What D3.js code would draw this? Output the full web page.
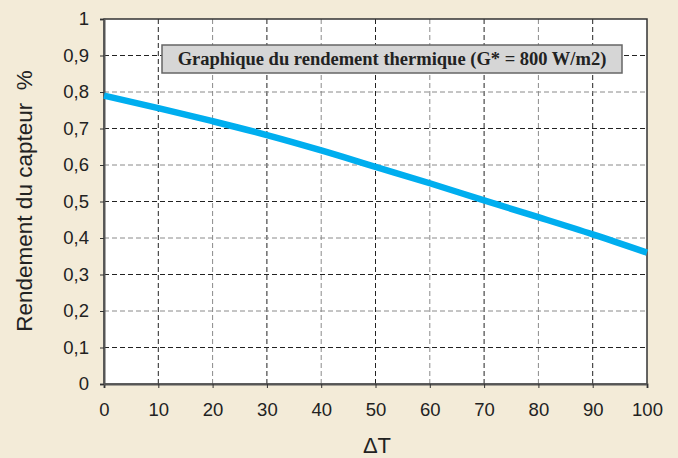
<!DOCTYPE html>
<html>
<head>
<meta charset="utf-8">
<script src="https://cdn.jsdelivr.net/npm/d3@7"></script>
<style>
  body { margin: 0; background: #f3ebd8; }
  svg { display: block; }
  text { font-family: "Liberation Sans", Arial, sans-serif; fill: #222; }
</style>
</head>
<body>
<script>
// data
var deltaT = [0, 10, 20, 30, 40, 50, 60, 70, 80, 90, 100];
var rendement = [0.79, 0.756, 0.72, 0.682, 0.64, 0.595, 0.55, 0.503, 0.457, 0.41, 0.36];
var xTicks = [0, 10, 20, 30, 40, 50, 60, 70, 80, 90, 100];
var yTicks = [0, 0.1, 0.2, 0.3, 0.4, 0.5, 0.6, 0.7, 0.8, 0.9, 1];

var W = 678, H = 458;
var m = { left: 104, right: 31, top: 19, bottom: 74 };
var w = W - m.left - m.right, h = H - m.top - m.bottom;

var svg = d3.select('body').append('svg').attr('width', W).attr('height', H);
svg.append('rect').attr('width', W).attr('height', H).attr('fill', '#f3ebd8');

var x = d3.scaleLinear().domain([0, 100]).range([0, w]);
var y = d3.scaleLinear().domain([0, 1]).range([h, 0]);

var g = svg.append('g').attr('transform', 'translate(' + m.left + ',' + m.top + ')');
g.append('rect').attr('width', w).attr('height', h).attr('fill', '#fff');

// grid lines, alternating dark / grey dashes
g.selectAll('line.vg').data(xTicks.slice(1, -1)).enter().append('line')
  .attr('x1', function(d) { return x(d); }).attr('x2', function(d) { return x(d); })
  .attr('y1', 0).attr('y2', h)
  .attr('stroke', function(d, i) { return i % 2 ? '#8a8a8a' : '#222'; })
  .attr('stroke-width', 1).attr('stroke-dasharray', '5,3');
g.selectAll('line.hg').data(yTicks.slice(1, -1)).enter().append('line')
  .attr('y1', function(d) { return y(d); }).attr('y2', function(d) { return y(d); })
  .attr('x1', 0).attr('x2', w)
  .attr('stroke', function(d, i) { return i % 2 ? '#8a8a8a' : '#222'; })
  .attr('stroke-width', 1).attr('stroke-dasharray', '5,3');

// frame
g.append('rect').attr('width', w).attr('height', h)
  .attr('fill', 'none').attr('stroke', '#333').attr('stroke-width', 1.5);

// axes
var fmt = function(d) { return String(d).replace('.', ','); };
var xa = g.append('g').attr('transform', 'translate(0,' + h + ')')
  .call(d3.axisBottom(x).tickValues(xTicks).tickSize(4).tickPadding(15).tickFormat(fmt));
var ya = g.append('g')
  .call(d3.axisLeft(y).tickValues(yTicks).tickSize(4).tickPadding(11).tickFormat(fmt));
[xa, ya].forEach(function(a) {
  a.select('.domain').attr('stroke', '#555').attr('stroke-width', 2);
  a.selectAll('.tick line').attr('stroke', '#333');
  a.selectAll('.tick text').attr('font-size', 18.5).attr('fill', '#222')
    .style('font-family', '"Liberation Sans", Arial, sans-serif');
});

// curve
var line = d3.line()
  .x(function(d, i) { return x(deltaT[i]); })
  .y(function(d) { return y(d); })
  .curve(d3.curveMonotoneX);
g.append('path').datum(rendement).attr('d', line)
  .attr('fill', 'none').attr('stroke', '#00aeef').attr('stroke-width', 6.5);

// title box
var tb = g.append('g').attr('transform', 'translate(' + (162 - m.left) + ',' + (45 - m.top) + ')');
tb.append('rect').attr('width', 460).attr('height', 28)
  .attr('fill', '#d6d6d6').attr('stroke', '#666').attr('stroke-width', 1.5);
tb.append('text').attr('x', 230).attr('y', 20).attr('text-anchor', 'middle')
  .style('font-family', '"Liberation Serif", "Times New Roman", serif')
  .attr('font-weight', 'bold').attr('font-size', 18.5).attr('fill', '#111')
  .text('Graphique du rendement thermique (G* = 800 W/m2)');

// axis titles
svg.append('text').attr('transform', 'translate(32,' + 201 + ') rotate(-90)')
  .attr('text-anchor', 'middle').attr('font-size', 22.5)
  .style('white-space', 'pre')
  .text('Rendement du capteur  %');
svg.append('text').attr('x', 377).attr('y', 453)
  .attr('text-anchor', 'middle').attr('font-size', 22)
  .text('ΔT');
</script>
</body>
</html>
